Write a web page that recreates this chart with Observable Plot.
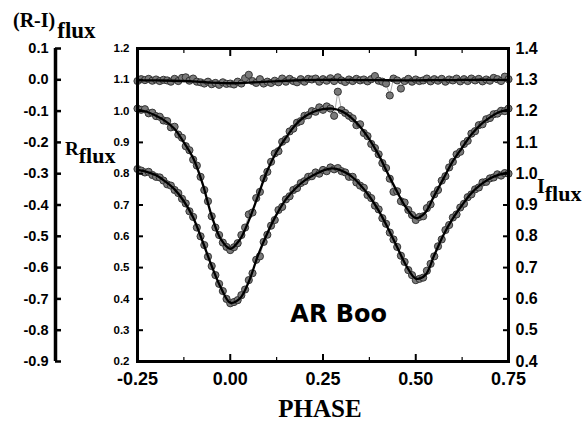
<!DOCTYPE html>
<html>
<head>
<meta charset="utf-8">
<script src="https://cdn.jsdelivr.net/npm/d3@7"></script>
<script src="https://cdn.jsdelivr.net/npm/@observablehq/plot@0.6"></script>
<style>
  html, body { margin: 0; padding: 0; background: white; }
  #chart svg { display: block; }
</style>
</head>
<body>
<div id="chart"></div>
<script>
// ---------- data ----------
const phaseObs = [-0.25,-0.24,-0.23,-0.22,-0.21,-0.20,-0.19,-0.18,-0.17,-0.16,-0.15,-0.14,-0.13,-0.12,-0.11,-0.10,-0.09,-0.08,-0.07,-0.06,-0.05,-0.04,-0.03,-0.02,-0.01,
  0.00,0.01,0.02,0.03,0.04,0.05,0.06,0.07,0.08,0.09,0.10,0.11,0.12,0.13,0.14,0.15,0.16,0.17,0.18,0.19,0.20,0.21,0.22,0.23,0.24,
  0.25,0.26,0.27,0.28,0.29,0.30,0.31,0.32,0.33,0.34,0.35,0.36,0.37,0.38,0.39,0.40,0.41,0.42,0.43,0.44,0.45,0.46,0.47,0.48,0.49,
  0.50,0.51,0.52,0.53,0.54,0.55,0.56,0.57,0.58,0.59,0.60,0.61,0.62,0.63,0.64,0.65,0.66,0.67,0.68,0.69,0.70,0.71,0.72,0.73,0.74,0.75];

const rObs = [1.008,1.004,1.006,0.993,0.995,0.984,0.982,0.970,0.968,0.948,0.950,0.925,0.915,0.888,0.875,0.845,0.826,0.790,0.748,0.712,0.664,0.628,0.604,0.580,0.566,
  0.556,0.565,0.578,0.604,0.628,0.670,0.676,0.722,0.742,0.785,0.806,0.838,0.865,0.872,0.902,0.910,0.935,0.944,0.963,0.968,0.985,0.987,1.000,0.998,1.012,
  1.004,1.015,1.008,0.985,1.062,1.003,0.994,0.985,0.977,0.955,0.958,0.930,0.920,0.895,0.882,0.862,0.834,0.818,0.784,0.742,0.744,0.712,0.708,0.684,0.668,
  0.652,0.662,0.664,0.690,0.702,0.734,0.748,0.778,0.792,0.820,0.838,0.862,0.870,0.895,0.905,0.928,0.936,0.955,0.958,0.974,0.978,0.990,0.992,1.001,1.000,1.008];

const iObs = [1.015,1.010,1.004,1.006,0.996,0.990,0.988,0.978,0.966,0.962,0.948,0.938,0.920,0.905,0.880,0.862,0.828,0.800,0.772,0.735,0.705,0.676,0.648,0.625,0.600,
  0.586,0.590,0.596,0.612,0.630,0.660,0.682,0.725,0.736,0.782,0.805,0.834,0.852,0.884,0.894,0.918,0.928,0.948,0.954,0.970,0.976,0.990,0.992,1.004,1.000,
  1.012,1.008,1.020,1.014,1.018,1.008,1.004,0.990,0.990,0.972,0.962,0.955,0.932,0.922,0.898,0.886,0.858,0.840,0.812,0.790,0.766,0.738,0.718,0.692,0.676,
  0.660,0.664,0.668,0.690,0.712,0.736,0.768,0.790,0.820,0.836,0.860,0.870,0.892,0.904,0.925,0.934,0.950,0.956,0.972,0.974,0.985,0.988,0.998,0.994,1.002,1.000];

const riObs = [-0.004,0.002,-0.001,0.003,-0.003,0.001,-0.004,0.000,-0.002,-0.006,0.003,-0.004,0.006,0.008,-0.003,0.004,-0.006,-0.008,-0.012,-0.006,-0.014,-0.010,-0.016,-0.008,-0.013,
  -0.012,-0.015,-0.006,-0.012,0.005,0.016,-0.004,-0.010,0.002,-0.012,-0.006,-0.010,-0.003,-0.008,0.004,-0.006,0.003,-0.004,-0.008,0.002,-0.006,0.003,0.001,0.004,-0.006,
  0.002,-0.003,0.005,-0.004,0.008,-0.002,-0.007,0.001,-0.004,0.003,-0.002,0.001,-0.005,0.002,0.012,-0.003,-0.006,-0.012,-0.050,0.004,-0.002,-0.028,-0.004,0.003,-0.006,
  0.001,-0.004,-0.002,0.004,-0.005,0.002,-0.003,0.003,-0.006,0.001,-0.002,0.004,-0.005,0.002,-0.004,0.004,-0.002,0.003,-0.005,0.001,-0.003,0.006,0.002,-0.004,0.010,0.002];

const phaseFit = [-0.25,-0.225,-0.2,-0.175,-0.15,-0.125,-0.1,-0.075,-0.05,-0.025,0.0,0.025,0.05,0.075,0.1,0.125,0.15,0.175,0.2,0.225,
  0.25,0.275,0.3,0.325,0.35,0.375,0.4,0.425,0.45,0.475,0.5,0.525,0.55,0.575,0.6,0.625,0.65,0.675,0.7,0.725,0.75];
const rFit = [1.005,0.998,0.985,0.968,0.943,0.900,0.850,0.770,0.665,0.590,0.560,0.588,0.650,0.730,0.810,0.870,0.915,0.955,0.982,0.998,
  1.006,1.008,1.000,0.980,0.950,0.910,0.860,0.800,0.742,0.690,0.658,0.675,0.730,0.785,0.840,0.883,0.925,0.957,0.980,0.997,1.005];
const iFit = [1.012,1.006,0.995,0.975,0.950,0.912,0.860,0.785,0.705,0.635,0.588,0.600,0.655,0.740,0.810,0.870,0.918,0.952,0.978,0.996,
  1.010,1.017,1.010,0.993,0.965,0.928,0.882,0.826,0.765,0.705,0.665,0.675,0.740,0.805,0.857,0.900,0.938,0.965,0.985,0.997,1.003];
const phaseFitRI = [-0.25,-0.2,-0.15,-0.1,-0.05,0.0,0.05,0.1,0.15,0.2,0.25,0.3,0.35,0.4,0.45,0.5,0.55,0.6,0.65,0.7,0.75];
const riFit = [-0.002,-0.002,-0.003,-0.005,-0.009,-0.011,-0.009,-0.006,-0.003,-0.001,0.000,0.000,-0.001,-0.001,-0.002,-0.002,-0.001,-0.001,0.000,0.000,-0.001];

// axes
const xDomain = [-0.25, 0.75];
const xMajorTicks = [-0.25, 0.00, 0.25, 0.50, 0.75];
const xMinorTicks = [-0.125, 0.125, 0.375, 0.625];
const rDomain = [0.2, 1.2];
const rTicks = [0.2,0.3,0.4,0.5,0.6,0.7,0.8,0.9,1.0,1.1,1.2];
const iTicks = [0.4,0.5,0.6,0.7,0.8,0.9,1.0,1.1,1.2,1.3,1.4];
const riTicks = [-0.9,-0.8,-0.7,-0.6,-0.5,-0.4,-0.3,-0.2,-0.1,0.0,0.1];
const iOffset = 0.2;    // I axis value = R-scale value + 0.2
const riOffset = 1.1;   // R-scale value = (R-I) + 1.1
const starName = ["AR Boo"];
const starPhase = [0.162];
const starFlux = [0.352];

// ---------- build tables ----------
const obs = phaseObs.map((p, k) => ({p, r: rObs[k], i: iObs[k], ri: riObs[k]}));
const fit = phaseFit.map((p, k) => ({p, r: rFit[k], i: iFit[k]}));
const fitRI = phaseFitRI.map((p, k) => ({p, ri: riFit[k]}));
const starLabel = starName.map((t, k) => ({t, p: starPhase[k], y: starFlux[k]}));

const yI = d => d.i - iOffset;
const yRI = d => d.ri + riOffset;

const dotStyle = {r: 3.6, fill: "#7a7a7a", stroke: "#2a2a2a", strokeWidth: 0.9};
const connStyle = {stroke: "#8a8a8a", strokeWidth: 0.7};
const fitStyle = {stroke: "black", strokeWidth: 2.3, curve: "catmull-rom"};
const tickFont = {fontWeight: "bold", fill: "black"};

const chart = Plot.plot({
  width: 585, height: 423,
  marginLeft: 137, marginRight: 77, marginTop: 48, marginBottom: 62,
  x: {domain: xDomain},
  y: {domain: rDomain},
  style: {fontFamily: "'Liberation Sans', Arial, sans-serif", background: "white", color: "black", overflow: "visible"},
  marks: [
    // series: observations (thin connecting line + dots) and fits
    Plot.line(obs, {x: "p", y: yRI, ...connStyle}),
    Plot.line(obs, {x: "p", y: "r", ...connStyle}),
    Plot.line(obs, {x: "p", y: yI, ...connStyle}),
    Plot.dot(obs, {x: "p", y: yRI, ...dotStyle}),
    Plot.dot(obs, {x: "p", y: "r", ...dotStyle}),
    Plot.dot(obs, {x: "p", y: yI, ...dotStyle}),
    Plot.line(fitRI, {x: "p", y: yRI, ...fitStyle}),
    Plot.line(fit, {x: "p", y: "r", ...fitStyle}),
    Plot.line(fit, {x: "p", y: yI, ...fitStyle}),

    // frame
    Plot.frame({stroke: "black", strokeWidth: 3}),

    // bottom x axis (inward ticks)
    Plot.axisX({anchor: "bottom", ticks: xMajorTicks, tickFormat: d => d.toFixed(2), tickSize: -7, tickPadding: 18,
      strokeWidth: 2, fontSize: 18, ...tickFont, label: null}),
    Plot.axisX({anchor: "bottom", ticks: xMinorTicks, tickFormat: () => "", tickSize: -4, strokeWidth: 1.2, label: null}),
    // top x axis ticks
    Plot.axisX({anchor: "top", ticks: xMajorTicks, tickFormat: () => "", tickSize: -7, strokeWidth: 2, label: null}),
    Plot.axisX({anchor: "top", ticks: xMinorTicks, tickFormat: () => "", tickSize: -4, strokeWidth: 1.2, label: null}),

    // inner left: R flux
    Plot.axisY({anchor: "left", ticks: rTicks, tickFormat: d => d.toFixed(1), tickSize: -6, tickPadding: 14,
      strokeWidth: 2, fontSize: 11.5, ...tickFont, label: null}),
    // right: I flux
    Plot.axisY({anchor: "right", ticks: iTicks.map(v => v - iOffset), tickFormat: d => (d + iOffset).toFixed(1),
      tickSize: -6, tickPadding: 13, strokeWidth: 2, fontSize: 16, ...tickFont, label: null}),
    // far left: (R-I) flux
    Plot.ruleX([xDomain[0]], {y1: rDomain[0], y2: rDomain[1], dx: -82, stroke: "black", strokeWidth: 3.5}),
    Plot.axisY({anchor: "left", ticks: riTicks.map(v => v + riOffset), tickFormat: d => (d - riOffset).toFixed(1),
      tickSize: -6, tickPadding: 13, dx: -82, strokeWidth: 2.5, fontSize: 14.5, ...tickFont, label: null}),

    // star name
    Plot.text(starLabel, {x: "p", y: "y", text: "t", textAnchor: "start", fontSize: 24, fontWeight: "bold",
      fontFamily: "'DejaVu Sans', Verdana, sans-serif", fill: "black"})
  ]
});

document.getElementById("chart").appendChild(chart);

// axis titles (serif, bold, with subscripts)
const svg = d3.select(chart);
const serif = "'Liberation Serif', 'Times New Roman', serif";
function title(x, y, main, sub, mainSize, subSize, subDx, subDy) {
  const t = svg.append("text").attr("x", x).attr("y", y)
    .attr("text-anchor", "start")
    .attr("font-family", serif).attr("font-weight", "bold").attr("fill", "black")
    .attr("font-size", mainSize);
  t.append("tspan").text(main);
  if (sub) t.append("tspan").attr("dx", subDx).attr("dy", subDy).attr("font-size", subSize).text(sub);
}
title(13, 27, "(R-I)", "flux", 20, 23, 2, 11);
title(65, 155, "R", "flux", 19, 22, 0, 8);
title(537, 193, "I", "flux", 20, 22, 0, 8);
svg.append("text").attr("x", 320).attr("y", 417).attr("text-anchor", "middle")
  .attr("font-family", serif).attr("font-weight", "bold").attr("font-size", 25).attr("fill", "black")
  .text("PHASE");
</script>
</body>
</html>
